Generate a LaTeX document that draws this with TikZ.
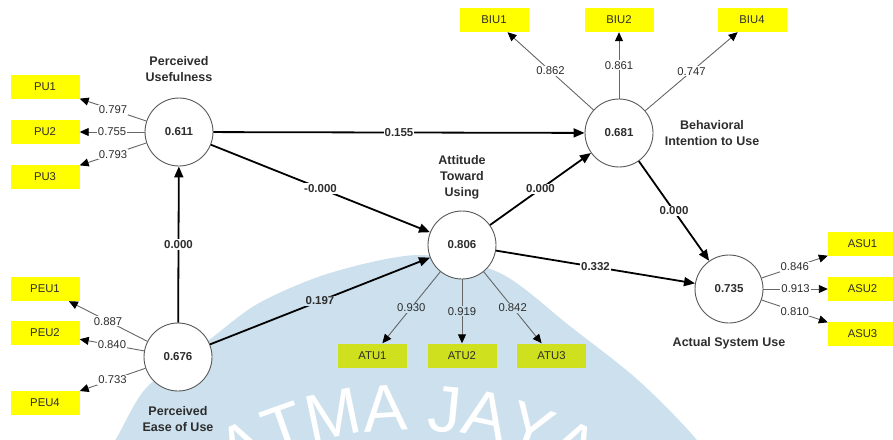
\documentclass[tikz,border=0pt]{standalone}
\usepackage{fontspec}
\setmainfont{Liberation Sans}
\usepackage{tikz}
\usetikzlibrary{positioning}
\usetikzlibrary{arrows.meta,decorations.text}
\definecolor{indyellow}{RGB}{255,255,0}
\definecolor{atugreen}{RGB}{206,224,30}
\definecolor{wmblue}{RGB}{204,224,237}
\definecolor{txtgray}{RGB}{45,45,45}

\begin{document}
\begin{tikzpicture}[x=1pt,y=-1pt,
lv/.style={
circle,
draw=black!65,
fill=white,
line width=0.9pt,
minimum size=68pt,
inner sep=0pt,
text=txtgray,
font=\fontsize{11.5}{12}\selectfont\bfseries
},
ind/.style={rectangle,fill=indyellow,minimum width=69pt,minimum height=24pt,inner sep=0pt,text=txtgray,font=\fontsize{11.3}{12}\selectfont},
atuind/.style={ind,fill=atugreen},
lvname/.style={align=center,text=txtgray,font=\fontsize{12.5}{16}\selectfont\bfseries},
struct/.style={-{Triangle[length=11pt,width=9pt]},line width=1.8pt},
loading/.style={-{Triangle[length=9pt,width=8pt,color=black]},draw=black!60,line width=0.9pt},
coef/.style={fill=white,inner sep=1pt,text=txtgray,font=\fontsize{11.5}{12}\selectfont\bfseries},
wt/.style={fill=white,inner sep=1pt,text=txtgray,font=\fontsize{11.3}{12}\selectfont},
]
\useasboundingbox (0,0) rectangle (893,439);
% watermark
\begin{scope}
\clip (0,0) rectangle (893,439);
\fill[wmblue] plot[smooth] coordinates {(90,480) (116,439) (147,387) (209,340) (259,303) (330,273) (419,255) (500,273) (571,327) (638,380) (696,439) (720,480)} -- cycle;
\path[decorate,decoration={text along path,text align=center,text color=white,text={|\fontsize{66}{66}\selectfont|ATMA JAYA}}] (408,780) ++(210:350) arc[start angle=210,end angle=330,radius=350];
\end{scope}
% constructs
\node (pu) [lv] at (179,132) {0.611};
\node (peu) [lv] at (178,357) {0.676};
\node (atu) [lv] at (462,245) {0.806};
\node (biu) [lv] at (619,133) {0.681};
\node (asu) [lv] at (729,289) {0.735};
\node (pulab) [lvname,node distance=63pt,above of=pu] {Perceived\\Usefulness};
\node (peulab) [lvname,node distance=62pt,below of=peu] {Perceived\\Ease of Use};
\node (atulab) [lvname,node distance=68pt,above of=atu] {Attitude\\Toward\\Using};
\node (biulab) [lvname,node distance=93pt,right of=biu] {Behavioral\\Intention to Use};
\node (asulab) [lvname,node distance=54pt,below of=asu] {Actual System Use};
% indicators
\node (pu2) [ind,node distance=134pt,left of=pu] {PU2};
\node (pu1) [ind,node distance=45pt,above of=pu2] {PU1};
\node (pu3) [ind,node distance=45pt,below of=pu2] {PU3};
\node (peu2) [ind] at (45,333) {PEU2};
\node (peu1) [ind,node distance=44pt,above of=peu2] {PEU1};
\node (peu4) [ind,node distance=70pt,below of=peu2] {PEU4};
\node (biu2) [ind,node distance=113pt,above of=biu] {BIU2};
\node (biu1) [ind,node distance=125pt,left of=biu2] {BIU1};
\node (biu4) [ind,node distance=133pt,right of=biu2] {BIU4};
\node (asu2) [ind,node distance=133.5pt,right of=asu] {ASU2};
\node (asu1) [ind,node distance=45pt,above of=asu2] {ASU1};
\node (asu3) [ind,node distance=45pt,below of=asu2] {ASU3};
\node (atu2) [atuind,node distance=110.5pt,below of=atu] {ATU2};
\node (atu1) [atuind,node distance=89.5pt,left of=atu2] {ATU1};
\node (atu3) [atuind,node distance=89.5pt,right of=atu2] {ATU3};
% inner model
\draw[struct] (pu) -- node[coef] {0.155} (biu);
\draw[struct] (pu) -- node[coef] {-0.000} (atu);
\draw[struct] (peu) -- node[coef] {0.000} (pu);
\draw[struct] (peu) -- node[coef,fill=wmblue] {0.197} (atu);
\draw[struct] (atu) -- node[coef] {0.000} (biu);
\draw[struct] (atu) -- node[coef] {0.332} (asu);
\draw[struct] (biu) -- node[coef] {0.000} (asu);
% outer loadings
\draw[loading] (pu) -- node[wt] {0.797} (pu1);
\draw[loading] (pu) -- node[wt] {0.755} (pu2);
\draw[loading] (pu) -- node[wt] {0.793} (pu3);
\draw[loading] (peu) -- node[wt] {0.887} (peu1);
\draw[loading] (peu) -- node[wt] {0.840} (peu2);
\draw[loading] (peu) -- node[wt] {0.733} (peu4);
\draw[loading] (biu) -- node[wt] {0.862} (biu1);
\draw[loading] (biu) -- node[wt] {0.861} (biu2);
\draw[loading] (biu) -- node[wt] {0.747} (biu4);
\draw[loading] (asu) -- node[wt] {0.846} (asu1);
\draw[loading] (asu) -- node[wt] {0.913} (asu2);
\draw[loading] (asu) -- node[wt] {0.810} (asu3);
\draw[loading] (atu) -- node[wt,fill=wmblue] {0.930} (atu1);
\draw[loading] (atu) -- node[wt,fill=wmblue] {0.919} (atu2);
\draw[loading] (atu) -- node[wt,fill=wmblue] {0.842} (atu3);
\end{tikzpicture}
\end{document}
